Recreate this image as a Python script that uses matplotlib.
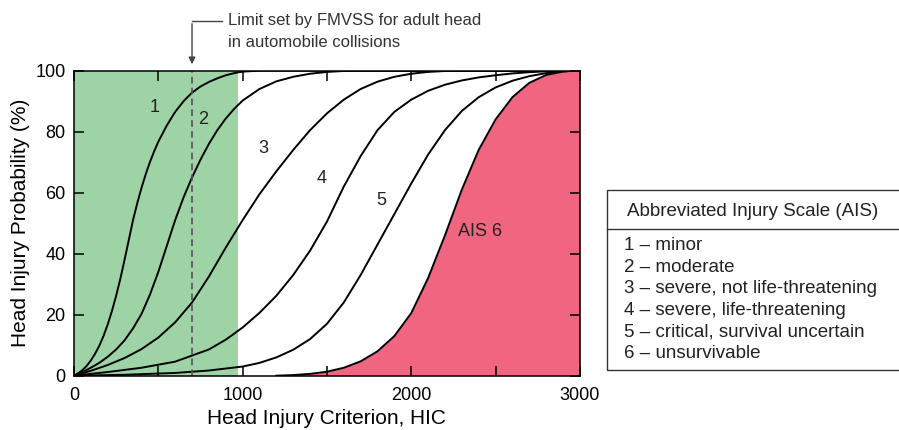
import numpy as np
import matplotlib
matplotlib.use('Agg')
import matplotlib.pyplot as plt
from matplotlib.patches import Rectangle
from matplotlib.lines import Line2D

plt.rcParams['font.family'] = ['Liberation Sans', 'DejaVu Sans']

# values (HIC, probability %)
hic1 = [0, 25, 50, 75, 100, 125, 150, 175, 200, 225, 250, 275, 300, 325, 350, 375, 400, 425, 450, 475,
        500, 550, 600, 650, 700, 750, 800, 850, 900, 950, 1000, 1100, 3000]
ais1 = [0, 0.8, 1.8, 3.2, 5, 7.2, 9.8, 13, 16.8, 21.2, 26.2, 31.8, 38, 44.5, 51, 56.5, 61.5, 66, 70, 73.5,
        76.7, 82, 86.5, 90, 92.8, 94.8, 96.3, 97.5, 98.5, 99.2, 99.7, 100, 100]

hic2 = [0, 50, 100, 150, 200, 250, 300, 350, 400, 450, 500, 550, 600, 650, 700, 750, 800, 850, 900, 950,
        1000, 1100, 1200, 1300, 1400, 1500, 1600, 1700, 3000]
ais2 = [0, 1.2, 2.6, 4.2, 6.2, 8.6, 11.6, 15.5, 20.2, 26.5, 34, 42.5, 51, 58.5, 65, 70.8, 76, 80.5, 84.3, 87.5,
        90.2, 94, 96.5, 98, 99, 99.6, 99.9, 100, 100]

hic3 = [0, 100, 200, 300, 400, 500, 600, 700, 800, 900, 1000, 1100, 1200, 1300, 1400, 1500, 1600, 1700,
        1800, 1900, 2000, 2100, 2200, 2300, 3000]
ais3 = [0, 1.6, 3.5, 5.8, 8.7, 12.5, 17.5, 24, 32.5, 42, 51, 59.5, 67, 74, 80.5, 86, 90.5, 94,
        96.4, 98, 99, 99.6, 99.9, 100, 100]

hic4 = [0, 200, 400, 600, 800, 900, 1000, 1100, 1200, 1300, 1400, 1500, 1600, 1700, 1800, 1900, 2000,
        2100, 2200, 2300, 2400, 2500, 2600, 2700, 2800, 2900, 3000]
ais4 = [0, 1.2, 2.6, 4.6, 8.6, 11.8, 15.8, 20.6, 26.2, 33, 41, 50.5, 62, 72, 80.5, 86.5, 90.5,
        93.4, 95.4, 96.8, 97.8, 98.5, 99.1, 99.5, 99.8, 100, 100]

hic5 = [0, 300, 600, 800, 1000, 1100, 1200, 1300, 1400, 1500, 1600, 1700, 1800, 1900, 2000, 2100, 2200,
        2300, 2400, 2500, 2600, 2700, 2800, 2900, 3000]
ais5 = [0, 0.3, 0.9, 1.7, 3, 4.2, 6, 8.5, 12, 17, 24, 33, 43, 53, 63, 72.5, 80.5,
        86.8, 91.3, 94.5, 96.7, 98.2, 99.2, 99.8, 100]

hic6 = [1200, 1300, 1400, 1500, 1600, 1700, 1800, 1900, 2000, 2100, 2200, 2300, 2400, 2500, 2600,
        2700, 2800, 2900, 2950, 3000]
ais6 = [0, 0.2, 0.6, 1.3, 2.6, 4.7, 8, 13, 20.5, 32, 46, 61, 74, 84, 91.3,
        96, 98.6, 99.7, 100, 100]

green_limit = 975
fmvss_limit = 700

curve_labels = ['1', '2', '3', '4', '5', 'AIS 6']
label_x = [480, 766, 1122, 1468, 1824, 2411]
label_y = [88, 84, 74.5, 64.7, 57.6, 47.2]

note_lines = ['Limit set by FMVSS for adult head', 'in automobile collisions']

legend_title = 'Abbreviated Injury Scale (AIS)'
legend_items = ['1 \u2013 minor', '2 \u2013 moderate', '3 \u2013 severe, not life-threatening',
                '4 \u2013 severe, life-threatening', '5 \u2013 critical, survival uncertain',
                '6 \u2013 unsurvivable']

fig = plt.figure(figsize=(8.99, 4.30), dpi=100)
ax = fig.add_axes([0.0823, 0.1263, 0.5627, 0.7093])

ax.axvspan(0, green_limit, color='#9ed3a6', lw=0, zorder=0)
ax.fill_between(hic6, ais6, 0, color='#f06681', lw=0, zorder=0.5)

for h, a in [(hic1, ais1), (hic2, ais2), (hic3, ais3), (hic4, ais4), (hic5, ais5), (hic6, ais6)]:
    ax.plot(h, a, color='black', lw=1.4, zorder=2, solid_joinstyle='round')

ax.plot([fmvss_limit, fmvss_limit], [0, 100], color='#55505a', lw=1.2, ls=(0, (4, 2.5)), zorder=3)

for t, x, y in zip(curve_labels, label_x, label_y):
    ax.text(x, y, t, fontsize=13, ha='center', va='center', color='#222222', zorder=4)

ax.set_xlim(0, 3000)
ax.set_ylim(0, 100)
ax.set_xticks(np.arange(0, 3001, 500))
ax.set_xticklabels(['0', '', '1000', '', '2000', '', '3000'])
ax.set_yticks(np.arange(0, 101, 20))
ax.tick_params(direction='in', length=7, width=1.1, top=True, right=True, labelsize=13)
ax.tick_params(axis='x', pad=8)
ax.tick_params(axis='y', pad=6)
for s in ax.spines.values():
    s.set_linewidth(1.1)
    s.set_zorder(5)

ax.set_xlabel('Head Injury Criterion, HIC', fontsize=15, labelpad=4)
ax.set_ylabel('Head Injury Probability (%)', fontsize=15, labelpad=4)

# annotation for FMVSS limit
ax.annotate('', xy=(fmvss_limit, 101.2), xytext=(fmvss_limit, 116.3),
            arrowprops=dict(arrowstyle='-|>', color='#444444', lw=1.0, mutation_scale=10),
            annotation_clip=False)
ax.plot([fmvss_limit, 877], [116.3, 116.3], color='#444444', lw=1.0, clip_on=False)
ax.text(913, 116.6, note_lines[0], fontsize=12, ha='left', va='center', color='#333333')
ax.text(913, 109.1, note_lines[1], fontsize=12, ha='left', va='center', color='#333333')

# legend box
fig.patches.append(Rectangle((0.675, 0.1395), 0.4, 0.4185, transform=fig.transFigure,
                             fill=False, edgecolor='#333333', lw=1.0))
fig.lines.append(Line2D([0.675, 1.0], [0.4674, 0.4674], transform=fig.transFigure,
                        color='#333333', lw=1.0))
fig.text(0.697, 0.509, legend_title, fontsize=13.5, ha='left', va='center', color='#222222')
ly = [0.428, 0.378, 0.328, 0.278, 0.228, 0.178]
for t, y in zip(legend_items, ly):
    fig.text(0.694, y, t, fontsize=13.5, ha='left', va='center', color='#222222')

fig.savefig('out.png', dpi=100)
